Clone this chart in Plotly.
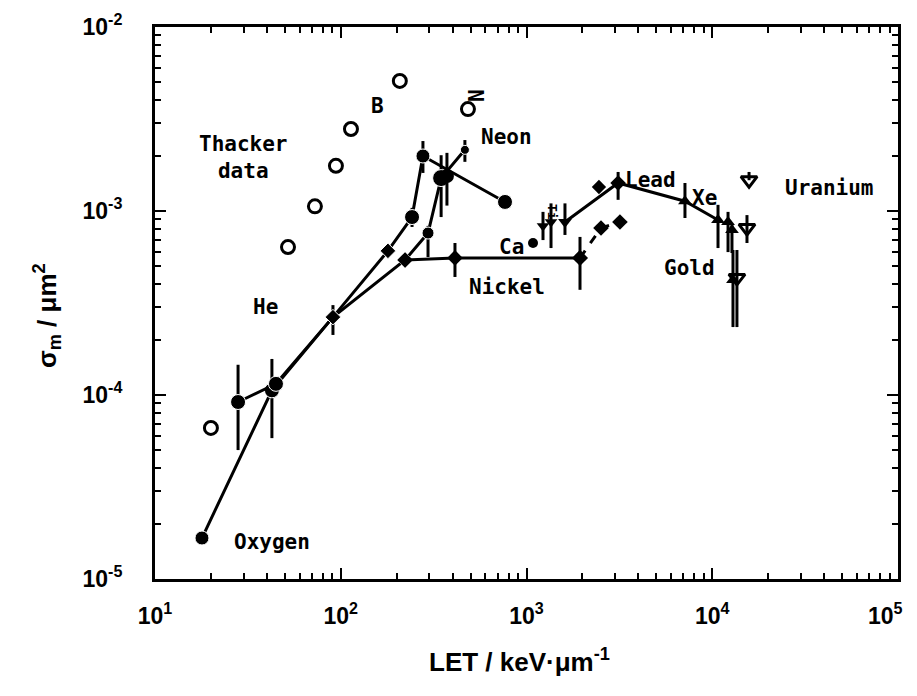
import math
import plotly.graph_objects as go

# ---------------- data ----------------
# Thacker data (open circles)
thacker_let = [20.0, 52.0, 72.6, 94.2, 113.5, 208.0, 484.0]
thacker_sigma = [6.62e-5, 6.37e-4, 1.06e-3, 1.76e-3, 2.79e-3, 5.09e-3, 3.58e-3]

# Oxygen / lower branch (filled symbols, joined)
oxy_let = [17.9, 42.6, 90.8, 222.0, 295.0, 347.0, 466.0]
oxy_sigma = [1.67e-5, 1.06e-4, 2.65e-4, 5.42e-4, 7.59e-4, 1.51e-3, 2.15e-3]
oxy_upper = [None, 1.57e-4, None, None, 8.3e-4, 2.01e-3, 2.43e-3]
oxy_lower = [None, 5.83e-5, None, None, 5.62e-4, 9.27e-4, 1.85e-3]

# He / upper branch (filled symbols, joined)
he_let = [28.0, 44.8, 90.8, 179.5, 242.0, 277.0, 766.0]
he_sigma = [9.16e-5, 1.15e-4, 2.65e-4, 6.07e-4, 9.27e-4, 1.99e-3, 1.12e-3]
he_upper = [1.46e-4, None, 3.08e-4, None, 1.04e-3, 2.40e-3, None]
he_lower = [5.02e-5, None, 2.12e-4, None, 8.19e-4, 1.61e-3, None]

# extra point inside the Neon cluster
cluster_let = [373.0]
cluster_sigma = [1.55e-3]
cluster_upper = [2.07e-3]
cluster_lower = [1.07e-3]

# Nickel (diamonds)
nickel_let = [222.0, 412.0, 1941.0]
nickel_sigma = [5.42e-4, 5.56e-4, 5.56e-4]
nickel_upper = [None, 6.70e-4, 7.23e-4]
nickel_lower = [None, 4.38e-4, 3.73e-4]
nickel2_let = [1941.0, 2518.0, 3184.0]
nickel2_sigma = [5.56e-4, 8.09e-4, 8.71e-4]

# Ca / Ti points
cati_let = [1227.0, 1355.0]
cati_sigma = [8.28e-4, 8.71e-4]
cati_upper = [9.89e-4, 1.10e-3]
cati_lower = [6.95e-4, 6.29e-4]
ca_mark_let = [1084.0]
ca_mark_sigma = [6.70e-4]

# Lead / Xe line
lead_let = [1611.0, 3113.0, 7130.0, 10740.0]
lead_sigma = [8.71e-4, 1.42e-3, 1.13e-3, 8.93e-4]
lead_upper = [1.10e-3, 1.63e-3, 1.42e-3, 1.08e-3]
lead_lower = [7.41e-4, 1.15e-3, 9.16e-4, 6.29e-4]

lone_let = [2455.0]
lone_sigma = [1.35e-3]

# Gold (filled triangles)
gold_let = [12160.0, 12770.0, 12930.0]
gold_sigma = [8.71e-4, 7.88e-4, 4.22e-4]
gold_upper = [9.89e-4, 8.40e-4, 6.14e-4]
gold_lower = [5.98e-4, 5.91e-4, 2.34e-4]

# Uranium (open triangles)
uran_let = [15780.0, 15380.0, 13580.0]
uran_sigma = [1.47e-3, 8.09e-4, 4.33e-4]
uran_upper = [1.63e-3, 9.5e-4, 6.14e-4]
uran_lower = [1.47e-3, 6.7e-4, 2.34e-4]

x_tick_vals = [1e1, 1e2, 1e3, 1e4, 1e5]
x_tick_text = ["10<sup>1</sup>", "10<sup>2</sup>", "10<sup>3</sup>", "10<sup>4</sup>",
               "10<sup>5</sup>\u00a0\u00a0\u00a0\u00a0"]
y_tick_vals = [1e-5, 1e-4, 1e-3, 1e-2]
y_tick_text = ["10<sup>-5</sup>", "10<sup>-4</sup>", "10<sup>-3</sup>", "10<sup>-2</sup>"]

# label texts with positions (LET, sigma)
labels = [
    ("Thacker<br>data", 29.8, 1.96e-3, 0),
    ("He", 39.1, 3.01e-4, 0),
    ("Oxygen", 42.7, 1.59e-5, 0),
    ("Neon", 785.0, 2.52e-3, 0),
    ("N", 541.0, 4.27e-3, -90),
    ("B", 157.0, 3.73e-3, 0),
    ("Nickel", 785.0, 3.86e-4, 0),
    ("Ca", 826.0, 6.37e-4, 0),
    ("Lead", 4677.0, 1.47e-3, 0),
    ("Xe", 9036.0, 1.18e-3, 0),
    ("Gold", 7586.0, 4.90e-4, 0),
    ("Uranium", 42560.0, 1.33e-3, 0),
]

# ---------------- helpers ----------------
BLACK = "black"


def err_y(vals, up, lo):
    plus = [(u - v) if u is not None else 0 for v, u in zip(vals, up)]
    minus = [(v - l) if l is not None else 0 for v, l in zip(vals, lo)]
    return dict(type="data", array=plus, arrayminus=minus, symmetric=False,
                thickness=3, width=0, color=BLACK)


fig = go.Figure()

LW = 3

# Oxygen branch
oxy_symbols = ["circle", "circle", "diamond", "diamond", "circle", "circle", "circle"]
oxy_sizes = [14, 15, 12, 12, 12, 17, 9]
fig.add_trace(go.Scatter(x=oxy_let, y=oxy_sigma, mode="lines+markers",
                         line=dict(color=BLACK, width=LW),
                         marker=dict(symbol=oxy_symbols, size=oxy_sizes, color=BLACK,
                                     opacity=1),
                         error_y=err_y(oxy_sigma, oxy_upper, oxy_lower)))

# He branch
he_symbols = ["circle", "circle", "diamond", "diamond", "circle", "circle", "circle"]
he_sizes = [15, 15, 12, 12, 15, 14, 15]
fig.add_trace(go.Scatter(x=he_let, y=he_sigma, mode="lines+markers",
                         line=dict(color=BLACK, width=LW),
                         marker=dict(symbol=he_symbols, size=he_sizes, color=BLACK,
                                     opacity=1),
                         error_y=err_y(he_sigma, he_upper, he_lower)))

fig.add_trace(go.Scatter(x=cluster_let, y=cluster_sigma, mode="markers",
                         marker=dict(symbol="circle", size=14, color=BLACK, opacity=1),
                         error_y=err_y(cluster_sigma, cluster_upper, cluster_lower)))

# Nickel
fig.add_trace(go.Scatter(x=nickel_let, y=nickel_sigma, mode="lines+markers",
                         line=dict(color=BLACK, width=LW),
                         marker=dict(symbol="diamond", size=12, color=BLACK, opacity=1),
                         error_y=err_y(nickel_sigma, nickel_upper, nickel_lower)))
fig.add_trace(go.Scatter(x=nickel2_let, y=nickel2_sigma, mode="lines+markers",
                         line=dict(color=BLACK, width=LW, dash="dash"),
                         marker=dict(symbol="diamond", size=12, color=BLACK, opacity=1)))

# Ca / Ti
fig.add_trace(go.Scatter(x=cati_let, y=cati_sigma, mode="markers",
                         marker=dict(symbol="triangle-down", size=11, color=BLACK, opacity=1),
                         error_y=err_y(cati_sigma, cati_upper, cati_lower)))
fig.add_trace(go.Scatter(x=ca_mark_let, y=ca_mark_sigma, mode="markers",
                         marker=dict(symbol="circle", size=10, color=BLACK, opacity=1)))

# Lead / Xe
lead_symbols = ["triangle-down", "diamond", "triangle-up", "triangle-up"]
fig.add_trace(go.Scatter(x=lead_let, y=lead_sigma, mode="lines+markers",
                         line=dict(color=BLACK, width=LW),
                         marker=dict(symbol=lead_symbols, size=12, color=BLACK, opacity=1),
                         error_y=err_y(lead_sigma, lead_upper, lead_lower)))
fig.add_trace(go.Scatter(x=lone_let, y=lone_sigma, mode="markers",
                         marker=dict(symbol="diamond", size=11, color=BLACK, opacity=1)))

# Gold
fig.add_trace(go.Scatter(x=gold_let, y=gold_sigma, mode="markers",
                         marker=dict(symbol="triangle-up", size=12, color=BLACK, opacity=1),
                         error_y=err_y(gold_sigma, gold_upper, gold_lower)))

# Uranium
fig.add_trace(go.Scatter(x=uran_let, y=uran_sigma, mode="markers",
                         marker=dict(symbol="triangle-down-open", size=14, color=BLACK,
                                     opacity=1, line=dict(width=3, color=BLACK)),
                         error_y=err_y(uran_sigma, uran_upper, uran_lower)))

# Thacker data
fig.add_trace(go.Scatter(x=thacker_let, y=thacker_sigma, mode="markers",
                         marker=dict(symbol="circle-open", size=13, color=BLACK,
                                     opacity=1, line=dict(width=3, color=BLACK))))

LABEL_FONT = dict(family="DejaVu Sans Mono", size=21, color=BLACK, weight="bold")
for text, lx, ly, ang in labels:
    fig.add_annotation(x=math.log10(lx), y=math.log10(ly), xref="x", yref="y",
                       text=text, showarrow=False, textangle=ang, font=LABEL_FONT)
fig.add_annotation(x=math.log10(1371.0), y=math.log10(9.88e-4), xref="x", yref="y",
                   text="Ti", showarrow=False, textangle=90,
                   font=dict(family="DejaVu Sans Mono", size=13, color=BLACK, weight="bold"))

TITLE_FONT = dict(family="Liberation Sans", size=26, color=BLACK, weight="bold")
fig.add_annotation(x=0.491, y=-0.147, xref="paper", yref="paper",
                   xanchor="center", yanchor="middle",
                   text="LET / keV·μm<sup>-1</sup>", showarrow=False, font=TITLE_FONT)
fig.add_annotation(x=-0.1454, y=0.478, xref="paper", yref="paper",
                   xanchor="center", yanchor="middle",
                   text="σ<sub>m</sub> / μm<sup>2</sup>", showarrow=False, textangle=-90,
                   font=TITLE_FONT)

minor_x = [m * 10 ** e for e in range(1, 5) for m in range(2, 10)]
minor_y = [m * 10 ** e for e in range(-5, -2) for m in range(2, 10)]

TICK_FONT = dict(family="Liberation Sans", size=23, color=BLACK, weight="bold")
fig.update_xaxes(type="log", range=[1, 5], tickmode="array", tickvals=x_tick_vals,
                 ticktext=x_tick_text, ticks="inside", ticklen=11, tickwidth=2,
                 tickcolor=BLACK, showline=True, linewidth=3, linecolor=BLACK,
                 mirror="ticks", showgrid=False, zeroline=False, tickfont=TICK_FONT,
                 ticklabelstandoff=14, automargin=False, ticklabeloverflow="allow",
                 minor=dict(tickmode="array", tickvals=minor_x, ticks="inside",
                            ticklen=6, tickwidth=2, tickcolor=BLACK, showgrid=False))
fig.update_yaxes(type="log", range=[-5, -2], tickmode="array", tickvals=y_tick_vals,
                 ticktext=y_tick_text, ticks="inside", ticklen=11, tickwidth=2,
                 tickcolor=BLACK, showline=True, linewidth=3, linecolor=BLACK,
                 mirror="ticks", showgrid=False, zeroline=False, tickfont=TICK_FONT,
                 ticklabelstandoff=25, automargin=False, ticklabeloverflow="allow",
                 minor=dict(tickmode="array", tickvals=minor_y, ticks="inside",
                            ticklen=6, tickwidth=2, tickcolor=BLACK, showgrid=False))

# page body adds an 8px offset, so the figure margins compensate for it
fig.update_layout(width=917, height=696, showlegend=False,
                  margin=dict(l=147, r=27, t=19, b=125, autoexpand=False),
                  paper_bgcolor="white", plot_bgcolor="white")

fig.write_html("out.html")
